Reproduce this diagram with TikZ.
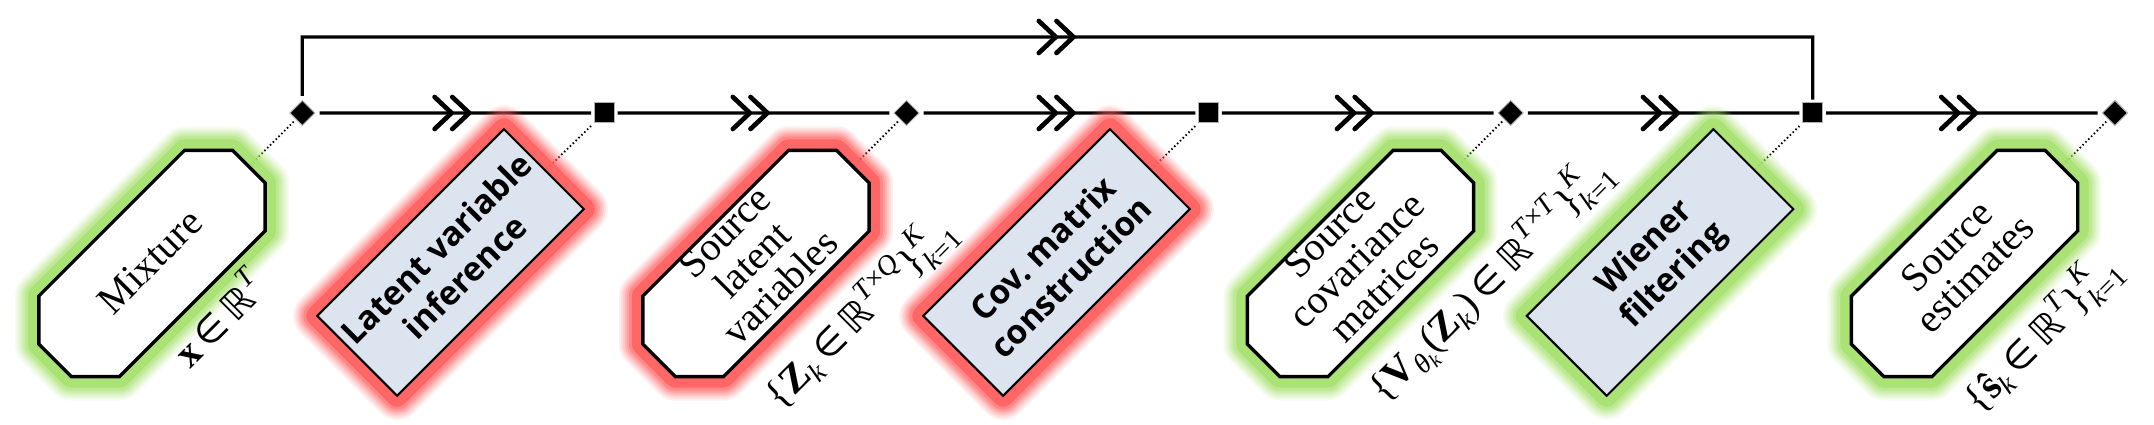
\documentclass[tikz,border=0pt]{standalone}
\usepackage{fontspec}
\setmainfont{Liberation Serif}
\newfontfamily\procfont{Open Sans}
\newfontfamily\symfont{DejaVu Sans}
\usetikzlibrary{shapes.geometric,arrows.meta,decorations.markings,calc}
\definecolor{glowgreen}{HTML}{A6E06E}
\definecolor{glowred}{HTML}{FF5F5F}
\definecolor{procfill}{HTML}{DCE4EF}
\pgfdeclarelayer{bg}\pgfdeclarelayer{shapes}\pgfsetlayers{bg,shapes,main}
\newcommand\Sup[1]{\raisebox{0.95ex}{\fontsize{8.4}{9}\selectfont #1}}
\newcommand\Sub[1]{\raisebox{-0.45ex}{\fontsize{8.4}{9}\selectfont #1}}
\newcommand\SubSup[2]{\rlap{\raisebox{1.15ex}{\fontsize{8.4}{9}\selectfont #2}}\raisebox{-0.55ex}{\fontsize{8.4}{9}\selectfont #1}}
\newcommand\inR{\,{\symfont\fontsize{11}{12}\selectfont ∈}\,{\symfont\fontsize{11.5}{12}\selectfont ℝ}}
\newcommand\ctext[2]{\makebox[0pt]{\smash{\raisebox{#1}{#2}}}}
\newcommand\lines[1]{\begin{tabular}{@{}c@{}}#1\end{tabular}}
\tikzset{
  chev/.tip={Straight Barb[length=5.1pt,width=9.6pt,line width=1.4pt,round,sep=-1.2pt] Straight Barb[length=5.1pt,width=9.6pt,line width=1.4pt,round]},
  glow/.style={
    preaction={draw=#1,line join=round,opacity=.10,line width=14.4pt},
    preaction={draw=#1,line join=round,opacity=.12,line width=13.2pt},
    preaction={draw=#1,line join=round,opacity=.15,line width=12pt},
    preaction={draw=#1,line join=round,opacity=.2,line width=10.8pt},
    preaction={draw=#1,line join=round,opacity=.25,line width=9.6pt},
    preaction={draw=#1,line join=round,opacity=.35,line width=8.4pt},
    preaction={draw=#1,line join=round,opacity=.8,line width=6.6pt}},
  procbox/.style={rectangle, rotate=45, draw=black, line width=0.6pt, fill=procfill,
    minimum width=79.2pt, minimum height=33.9pt, inner sep=0pt, align=center,
    font=\procfont\bfseries\fontsize{10}{12}\selectfont},
  textfix/.style={rectangle, rotate=45, draw=white, fill=white, line width=0.6pt,
    minimum size=4pt, inner sep=0pt, glow=white},
  datatext/.style={textfix, font=\fontsize{12}{11.7}\selectfont},
  dlabel/.style={textfix, font=\fontsize{12}{14}\selectfont},
  octo/.style={draw=black, line width=1pt, fill=white, line join=miter},
  jdiam/.style={rectangle, rotate=45, fill=black, draw=black!30, line width=0.3pt, minimum size=5.3pt, inner sep=0pt, outer sep=1pt},
  jsq/.style={rectangle, fill=black, draw=black!30, line width=0.3pt, minimum size=6pt, inner sep=0pt, outer sep=1pt},
  flow/.style={line width=1pt, postaction={decorate, decoration={markings, mark=at position #1 with {\arrow{chev}}}}},
  dotline/.style={line width=0.55pt, dash pattern=on 0.45pt off 0.75pt},
}
\newcommand\octoat[2]{\draw[octo, glow=#2, shift={(#1.center)}, rotate=45]
  (103,-57) -- (137,-23) -- (137,23) -- (103,57) -- (-103,57) -- (-137,23) -- (-137,-23) -- (-103,-57) -- cycle;}
\begin{document}
\begin{tikzpicture}[x=0.3pt,y=-0.3pt]
\useasboundingbox (0,0) rectangle (2154,425);
% junctions
\node[jdiam] (j0) at (302.3,113) {};
\node[jsq]   (j1) at (604.4,113) {};
\node[jdiam] (j2) at (906.5,113) {};
\node[jsq]   (j3) at (1208.6,113) {};
\node[jdiam] (j4) at (1510.7,113) {};
\node[jsq]   (j5) at (1812.8,113) {};
\node[jdiam] (j6) at (2114.9,113) {};
\coordinate (ytop) at (0,37);
% main flow
\draw[flow=0.56] (j0) -- (j1);
\draw[flow=0.56] (j1) -- (j2);
\draw[flow=0.56] (j2) -- (j3);
\draw[flow=0.56] (j3) -- (j4);
\draw[flow=0.56] (j4) -- (j5);
\draw[flow=0.56] (j5) -- (j6);
\draw[flow=0.51] (j0) -- (j0 |- ytop) -- (j5 |- ytop) -- (j5);
% labels (drawn before the process boxes)
\node[dlabel] (l0) at (237,337) {\ctext{3pt}{\textbf{x}\inR\Sup{\textit{T}}}};
\node[dlabel] (l2) at (869,322) {\ctext{0pt}{\{\textbf{Z}\Sub{\textit{k}}\inR\Sup{\textit{T}×\textit{Q}}\}\SubSup{\textit{k}=1}{\textit{K}}}};
\node[dlabel] (l4) at (1492,282) {\ctext{-3pt}{\{\textbf{V}\Sub{\textit{θ}\raisebox{-0.3ex}{\fontsize{6}{7}\selectfont\textit{k}}}(\textbf{Z}\Sub{\textit{k}})\inR\Sup{\textit{T}×\textit{T}}\}\SubSup{\textit{k}=1}{\textit{K}}}};
\node[dlabel] (l6) at (2058,350) {\ctext{3pt}{\{\textbf{ŝ}\Sub{\textit{k}}\inR\Sup{\textit{T}}\}\SubSup{\textit{k}=1}{\textit{K}}}};
% boxes
\node[datatext] (mix) at (152,263.5) {\ctext{-3pt}{Mixture}};
\node[procbox, glow=glowred] (lvi) at (450.5,262.5) {Latent variable\\inference};
\node[datatext] (slv) at (756,263.5) {\ctext{-3pt}{\lines{Source\\latent\\variables}}};
\node[procbox, glow=glowred] (cmc) at (1056.5,262.5) {Cov.\ matrix\\construction};
\node[datatext] (scm) at (1360.5,263.5) {\ctext{-3pt}{\lines{Source\\covariance\\matrices}}};
\node[procbox, glow=glowgreen] (wf) at (1660,262.5) {Wiener\\filtering};
\node[datatext] (se) at (1964.5,263.5) {\ctext{-3pt}{\lines{Source\\estimates}}};
\begin{pgfonlayer}{shapes}
\octoat{mix}{glowgreen}
\octoat{slv}{glowred}
\octoat{scm}{glowgreen}
\octoat{se}{glowgreen}
\end{pgfonlayer}
\begin{pgfonlayer}{bg}
\draw[dotline] (j0) -- (mix.center);
\draw[dotline] (j1) -- (lvi.center);
\draw[dotline] (j2) -- (slv.center);
\draw[dotline] (j3) -- (cmc.center);
\draw[dotline] (j4) -- (scm.center);
\draw[dotline] (j5) -- (wf.center);
\draw[dotline] (j6) -- (se.center);
\end{pgfonlayer}
\end{tikzpicture}
\end{document}
